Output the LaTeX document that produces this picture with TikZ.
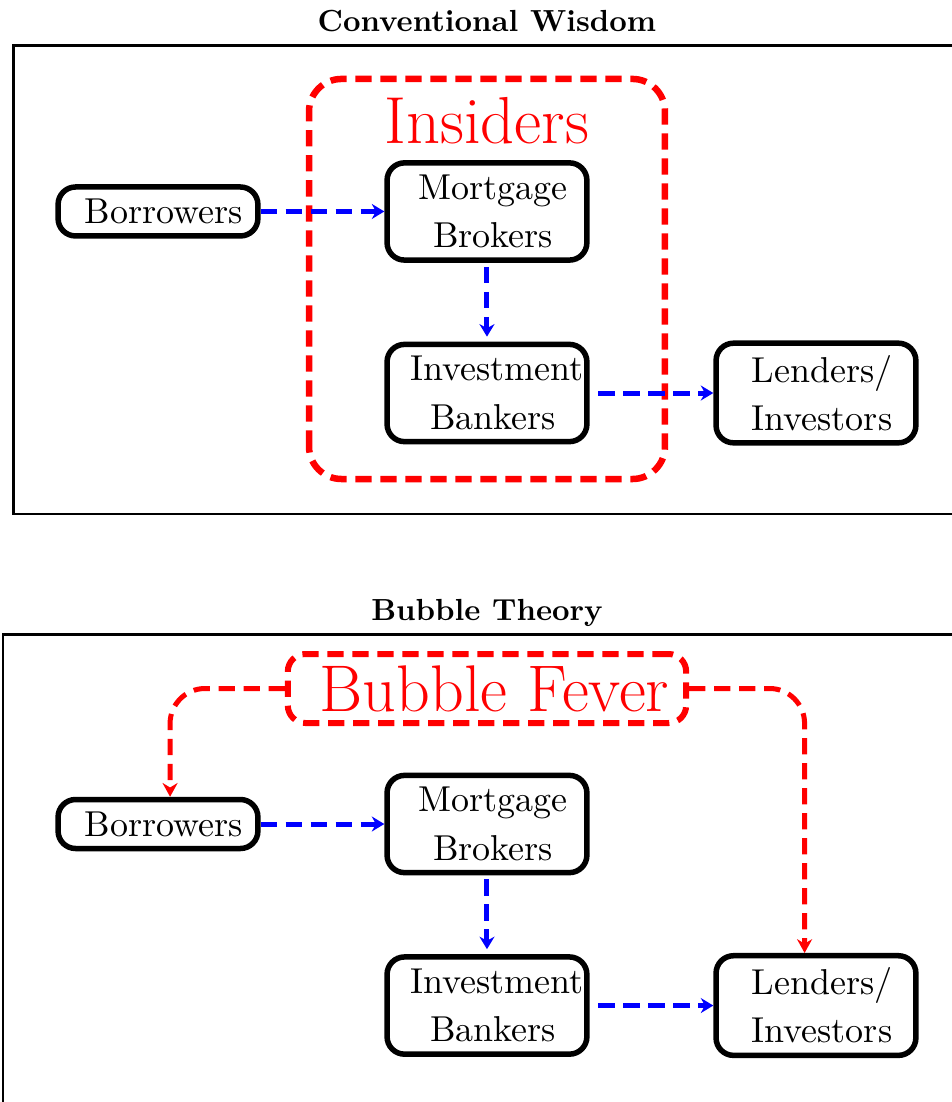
\documentclass[tikz,border=0pt]{standalone}
\usepackage{fontspec}
\usepackage{tikz}
\usetikzlibrary{arrows.meta}
\newfontfamily\agentfont{lmroman10-regular}[Extension=.otf]
\newfontfamily\titlefont{lmroman10-bold}[Extension=.otf]
\hyphenpenalty=10000
\tikzset{
    agent/.style={draw=black, line width=2.2pt, rounded corners=7pt,
        text width=2.5cm, align=center, inner xsep=4.4pt, inner ysep=4.8pt,
        font=\agentfont\fontsize{14.4}{19.3}\selectfont},
    flow/.style={draw=blue, line width=2pt, dash pattern=on 6.5pt off 3.5pt,
        -{Stealth[length=5pt,width=6pt]}},
    fever/.style={draw=red, line width=2pt, dash pattern=on 6.5pt off 3.5pt,
        rounded corners=14pt, -{Stealth[length=5.5pt,width=6pt]}},
    insidersbox/.style={draw=red, line width=2.6pt, dash pattern=on 6.5pt off 3.5pt,
        rounded corners=13pt},
    insiderslabel/.style={text=red, font=\fontsize{26.6}{32}\selectfont, anchor=base},
    bubble/.style={draw=red, text=red, line width=2.4pt, dash pattern=on 6.5pt off 3.5pt,
        rounded corners=7pt, font=\fontsize{26.4}{32}\selectfont,
        minimum width=5.6cm, minimum height=0.97cm},
    panel/.style={draw=black, line width=1.1pt},
    paneltitle/.style={font=\titlefont\fontsize{12.2}{15}\selectfont, anchor=base},
}
\begin{document}
\begin{tikzpicture}
	\useasboundingbox (-6.846,-12.519) rectangle (6.537,2.973);
	% conventional wisdom
	\node[paneltitle] (title1) at (0,2.537) {Conventional Wisdom};
	\draw[panel] (-6.657,-4.253) rectangle (7,2.334);
	\draw[insidersbox] (-2.502,-3.761) rectangle (2.502,1.863);
	\node[insiderslabel] (insiders) at (0,0.955) {Insiders};
	\node[agent] (borrowers1) at (-4.625,0) {~Borrowers};
	\node[agent] (mortgage1) at (0,0) {~Mortgage\\~Brokers};
	\node[agent] (investment1) at (0,-2.552) {~Investment\\~Bankers};
	\node[agent] (lenders1) at (4.625,-2.552) {~Lenders/\\~Investors};
	\draw[flow] (borrowers1) -- (mortgage1);
	\draw[flow, shorten <=1.6pt, shorten >=2pt] (mortgage1) -- (investment1);
	\draw[flow, shorten <=3.5pt] (investment1) -- (lenders1);
\begin{scope}[shift={(0,-8.611)}]
	% bubble theory
	\node[paneltitle] (title2) at (0,2.854) {Bubble Theory};
	\draw[panel] (-6.804,-5) rectangle (7,2.664);
	\node[bubble] (fever) at (0,1.905) {\hspace{6pt}Bubble Fever};
	\node[agent] (borrowers2) at (-4.625,0) {~Borrowers};
	\node[agent] (mortgage2) at (0,0) {~Mortgage\\~Brokers};
	\node[agent] (investment2) at (0,-2.552) {~Investment\\~Bankers};
	\node[agent] (lenders2) at (4.625,-2.552) {~Lenders/\\~Investors};
	\draw[flow] (borrowers2) -- (mortgage2);
	\draw[flow, shorten <=1.6pt, shorten >=2pt] (mortgage2) -- (investment2);
	\draw[flow, shorten <=3.5pt] (investment2) -- (lenders2);
	\draw[fever] (fever.west) -| ([xshift=0.17cm]borrowers2.north);
	\draw[fever] (fever.east) -| ([xshift=-0.16cm]lenders2.north);
\end{scope}
\end{tikzpicture}
\end{document}
